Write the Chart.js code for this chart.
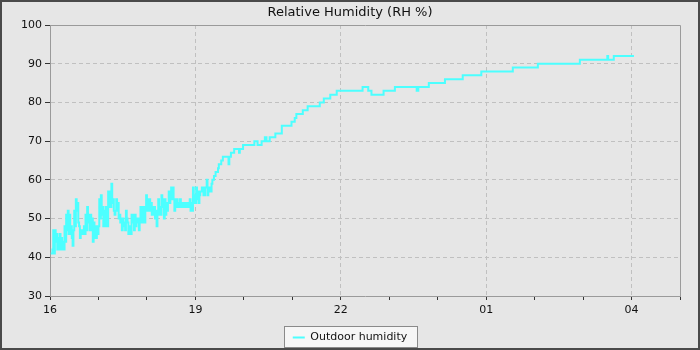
<!DOCTYPE html>
<html>
<head>
<meta charset="utf-8">
<title>Relative Humidity</title>
<script src="https://cdn.jsdelivr.net/npm/chart.js@4.4.1/dist/chart.umd.min.js"></script>
<style>
  html, body { margin: 0; padding: 0; background: #e6e6e6; }
  #frame { width: 700px; height: 350px; box-sizing: border-box; border: 2px solid #4a4a4a; background: #e6e6e6; }
  #frame canvas { display: block; }
</style>
</head>
<body>
<div id="frame"><canvas id="rh" width="696" height="346"></canvas></div>
<script>
// minutes after 16:00; the value changes at each point (stepped line)
const minutesAfter16 = [
  1, 2, 3, 4, 5, 6, 7, 8, 9, 10, 11, 12, 13, 14, 15, 16, 17, 18, 19, 20,
  21, 22, 23, 24, 25, 26, 27, 28, 29, 30, 31, 32, 33, 34, 35, 36, 37, 38, 39, 40,
  41, 42, 43, 44, 45, 46, 47, 48, 49, 50, 51, 52, 53, 54, 55, 56, 57, 58, 59, 60,
  61, 62, 63, 64, 65, 66, 67, 68, 69, 70, 71, 72, 73, 74, 75, 76, 77, 78, 79, 80,
  81, 82, 83, 84, 85, 86, 87, 88, 89, 90, 91, 92, 93, 94, 95, 96, 97, 98, 99, 100,
  101, 102, 103, 104, 105, 106, 107, 108, 109, 110, 111, 112, 113, 114, 115, 116, 117, 118, 119, 120,
  121, 122, 123, 124, 125, 126, 127, 128, 129, 130, 131, 132, 133, 134, 135, 136, 137, 138, 139, 140,
  141, 142, 143, 144, 145, 146, 147, 148, 149, 150, 151, 152, 153, 154, 155, 156, 157, 158, 159, 160,
  161, 162, 163, 164, 165, 166, 167, 168, 169, 170, 171, 172, 173, 174, 175, 176, 177, 178, 179, 180,
  181, 182, 183, 184, 185,
  186, 188, 190, 192, 194, 195, 196, 198, 200, 201, 203, 205, 208, 209, 212, 214, 221, 222, 224, 228,
  234, 235, 239,
  253, 257, 262, 266, 268, 272, 279, 287, 299, 303, 305, 313, 319, 334, 339, 347, 355,
  387, 394, 398, 413, 427, 454, 456, 469, 489, 511, 534, 573, 604, 656, 690, 691, 698, 723
];
const outdoorRH = [
  41, 41, 42, 47, 41, 47, 44, 46, 42, 45, 42, 46, 42, 45, 42, 44, 42, 48, 44, 51,
  47, 52, 46, 51, 46, 48, 45, 43, 47, 52, 48, 55, 52, 54, 49, 48, 45, 47, 46, 47,
  46, 48, 46, 51, 47, 53, 49, 51, 47, 51, 47, 50, 44, 49, 45, 48, 45, 48, 46, 48,
  55, 50, 56, 51, 53, 48, 52, 48, 53, 50, 48, 57, 53, 57, 53, 59, 54, 55, 52, 51,
  52, 55, 52, 54, 50, 51, 49, 50, 47, 50, 48, 49, 47, 52, 50, 49, 46, 48, 47, 46,
  51, 49, 51, 47, 51, 48, 50, 49, 50, 47, 50, 53, 49, 53, 49, 53, 49, 53, 56, 52,
  55, 52, 55, 52, 54, 51, 53, 51, 53, 50, 52, 48, 52, 55, 51, 53, 51, 56, 53, 55,
  50, 55, 51, 54, 52, 54, 57, 54, 56, 58, 55, 58, 55, 52, 55, 53, 55, 53, 54, 53,
  55, 53, 54, 53, 54, 53, 54, 53, 54, 53, 54, 53, 55, 52, 54, 52, 58, 54, 56, 54,
  58, 55, 57, 54, 56,
  57, 58, 56, 58, 60, 56, 58, 57, 59, 60, 61, 62, 63, 64, 65, 66, 64, 66, 67, 68,
  67, 68, 69,
  70, 69, 70, 71, 70, 71, 72, 74, 75, 76, 77, 78, 79, 80, 81, 82, 83,
  84, 83, 82, 83, 84, 83, 84, 85, 86, 87, 88, 89, 90, 91, 92, 91, 92, 92
];
// labelled hour ticks, one every 3 hours starting at 16:00
const hourLabels = ['16', '19', '22', '01', '04'];
const yTicks = { min: 30, max: 100, step: 10 };
const xRange = { min: 0, max: 780, step: 60 };

const FONT = 'DejaVu Sans';
const GRID = '#c0c0c0';
const AXIS = '#9a9a9a';
const CYAN = '#4cffff';

const frameBorder = {
  id: 'frameBorder',
  beforeDraw(chart) {
    // boxed legend like the original
    const ctx = chart.ctx;
    const hb = chart.legend && chart.legend.legendHitBoxes && chart.legend.legendHitBoxes[0];
    if (hb) {
      const cy = hb.top + hb.height / 2;
      const x0 = Math.round(hb.left - 9) + 0.5;
      const x1 = Math.round(hb.left + hb.width + 9.5) + 0.5;
      const y0 = Math.round(cy - 11.5) + 0.5;
      const y1 = Math.round(cy + 9.5) + 0.5;
      ctx.save();
      ctx.fillStyle = '#f6f6f6';
      ctx.fillRect(x0, y0, x1 - x0, y1 - y0);
      ctx.strokeStyle = '#8a8a8a';
      ctx.lineWidth = 1;
      ctx.strokeRect(x0, y0, x1 - x0, y1 - y0);
      ctx.restore();
    }
  },
  beforeDatasetsDraw(chart) {
    const { ctx, chartArea: a } = chart;
    ctx.save();
    ctx.strokeStyle = AXIS;
    ctx.lineWidth = 1;
    ctx.beginPath();
    ctx.moveTo(Math.round(a.left) + 0.5, Math.round(a.top) + 0.5);
    ctx.lineTo(Math.round(a.right) + 0.5, Math.round(a.top) + 0.5);
    ctx.lineTo(Math.round(a.right) + 0.5, Math.round(a.bottom) + 0.5);
    ctx.stroke();
    ctx.restore();
  }
};

Chart.defaults.font.family = FONT;
Chart.defaults.font.size = 11;
Chart.defaults.color = '#222';

new Chart(document.getElementById('rh'), {
  type: 'line',
  data: {
    datasets: [{
      label: 'Outdoor humidity',
      data: minutesAfter16.map((m, i) => ({ x: m, y: outdoorRH[i] })),
      borderColor: CYAN,
      backgroundColor: CYAN,
      borderWidth: 2,
      pointRadius: 0,
      stepped: true,
      tension: 0,
      fill: false
    }]
  },
  options: {
    responsive: false,
    animation: false,
    events: [],
    layout: { padding: { top: 0, right: 0, bottom: -5, left: 0 } },
    scales: {
      x: {
        type: 'linear',
        min: xRange.min,
        max: xRange.max,
        afterFit(scale) { scale.height = 36; },
        ticks: {
          stepSize: xRange.step,
          autoSkip: false,
          maxRotation: 0,
          padding: 4,
          color: '#111',
          callback: (v) => (v % 180 === 0 ? hourLabels[v / 180] || '' : '')
        },
        grid: {
          color: (c) => (c.tick && c.tick.value % 180 === 0 ? GRID : 'rgba(0,0,0,0)'),
          tickColor: '#333',
          tickLength: 4,
          tickBorderDash: []
        },
        border: { color: AXIS, dash: [4, 3] }
      },
      y: {
        min: yTicks.min,
        max: yTicks.max,
        afterFit(scale) { scale.width = 48; },
        ticks: { stepSize: yTicks.step, padding: 3, color: '#111' },
        grid: { color: GRID, tickColor: '#333', tickLength: 5, tickBorderDash: [] },
        border: { color: AXIS, dash: [4, 3] }
      },
      // empty right-hand strip so the plot stops short of the frame
      spacer: {
        type: 'linear',
        position: 'right',
        afterFit(scale) { scale.width = 18; },
        ticks: { display: false },
        grid: { display: false, drawTicks: false },
        border: { display: false }
      }
    },
    plugins: {
      title: {
        display: true,
        text: 'Relative Humidity (RH %)',
        color: '#111',
        font: { size: 13, weight: 'normal', lineHeight: '15px' },
        padding: { top: 3, bottom: 5 }
      },
      legend: {
        position: 'bottom',
        labels: {
          boxWidth: 12,
          boxHeight: 2,
          padding: 0,
          color: '#111',
          // thin line sample instead of an outlined box
          generateLabels(chart) {
            const items = Chart.defaults.plugins.legend.labels.generateLabels(chart);
            items.forEach((it) => { it.lineWidth = 0; });
            return items;
          }
        }
      },
      tooltip: { enabled: false }
    }
  },
  plugins: [frameBorder]
});
</script>
</body>
</html>
